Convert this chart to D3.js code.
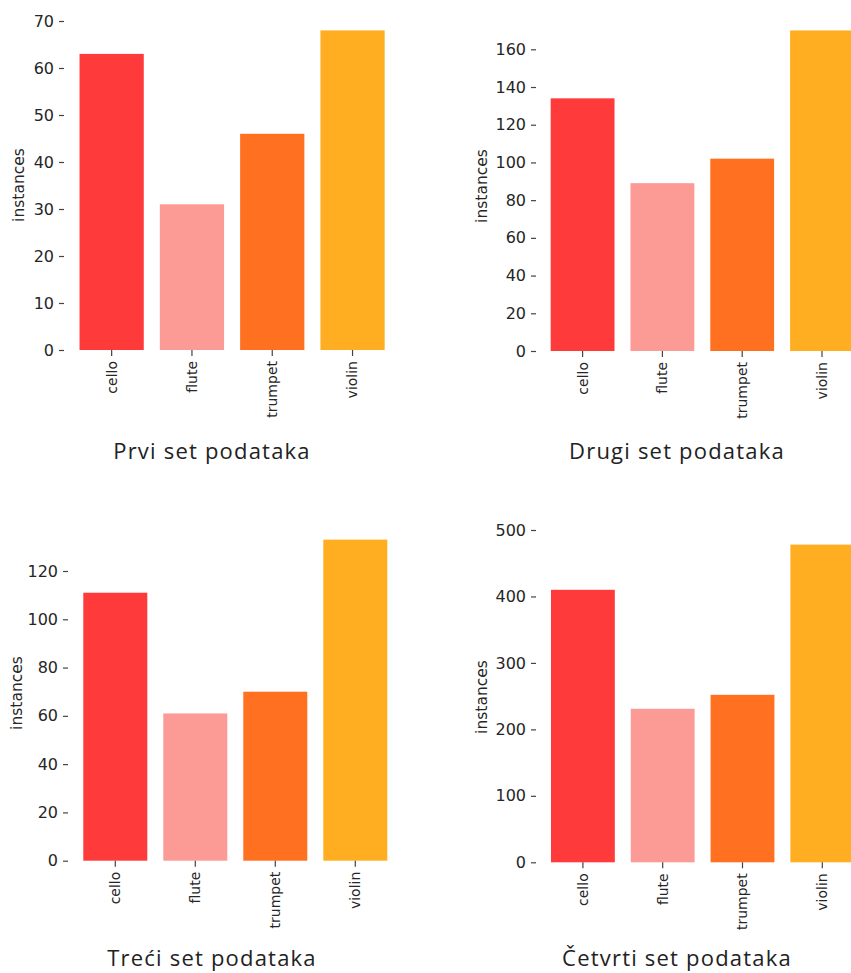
<!DOCTYPE html>
<html>
<head>
<meta charset="utf-8">
<script src="https://cdn.jsdelivr.net/npm/d3@7"></script>
<style>
  html, body { margin: 0; padding: 0; background: #ffffff; }
  svg { display: block; }
  svg text.tk { font-family: "DejaVu Sans", "Verdana", sans-serif; }
</style>
</head>
<body>
<svg id="chart" width="851" height="973"></svg>
<script>
// ---- data ----
const categories = ["cello", "flute", "trumpet", "violin"];
const values1 = [63, 31, 46, 68];
const values2 = [134, 89, 102, 170];
const values3 = [111, 61, 70, 133];
const values4 = [410, 231, 252, 478];
const ticks1 = [0, 10, 20, 30, 40, 50, 60, 70];
const ticks2 = [0, 20, 40, 60, 80, 100, 120, 140, 160];
const ticks3 = [0, 20, 40, 60, 80, 100, 120];
const ticks4 = [0, 100, 200, 300, 400, 500];
const titles = ["Prvi set podataka", "Drugi set podataka", "Treći set podataka", "Četvrti set podataka"];
const yLabel = "instances";
const colors = ["#FF3A3A", "#FC9A95", "#FF7120", "#FFAE22"];

// ---- layout (pixels) ----
const panels = [
  { values: values1, ticks: ticks1, title: titles[0], yTop: 70,  yPix: [350, 21],    xRange: [71.5, 392.7], axisX: 64,  ylab: [19, 185],  titlePos: [212, 459] },
  { values: values2, ticks: ticks2, title: titles[1], yTop: 160, yPix: [351, 49.3],  xRange: [542.7, 861.9], axisX: 536, ylab: [482, 186], titlePos: [677, 459] },
  { values: values3, ticks: ticks3, title: titles[2], yTop: 120, yPix: [860.7, 571], xRange: [75.3, 395.3], axisX: 68,  ylab: [17, 693],  titlePos: [212, 966] },
  { values: values4, ticks: ticks4, title: titles[3], yTop: 500, yPix: [862.3, 530], xRange: [543, 862.2], axisX: 536, ylab: [482, 697], titlePos: [677, 966] }
];

const svg = d3.select("#chart");

panels.forEach((p, pi) => {
  const g = svg.append("g");
  const y = d3.scaleLinear().domain([0, p.yTop]).range(p.yPix);
  const x = d3.scaleBand().domain(categories).range(p.xRange).paddingInner(0.2).paddingOuter(0.1);

  // bars
  g.selectAll("rect.bar")
    .data(categories.map((c, i) => ({ c, v: p.values[i], i })))
    .join("rect")
    .attr("class", "bar")
    .attr("x", d => x(d.c))
    .attr("width", x.bandwidth())
    .attr("y", d => y(d.v))
    .attr("height", d => y(0) - y(d.v))
    .attr("fill", d => colors[d.i]);

  // y axis
  const ya = g.append("g")
    .attr("transform", `translate(${p.axisX},0)`)
    .call(d3.axisLeft(y).tickValues(p.ticks).tickSize(5).tickPadding(5).tickFormat(d3.format("d")));
  ya.attr("font-family", "DejaVu Sans").attr("font-size", 16);
  ya.select(".domain").remove();
  ya.selectAll(".tick line").attr("stroke", "#444").attr("stroke-width", 1.2);
  ya.selectAll(".tick text").attr("class", "tk").attr("fill", "#262626")
    .attr("font-family", "DejaVu Sans").attr("font-size", 16);

  // x axis
  const xa = g.append("g")
    .attr("transform", `translate(0,${y(0)})`)
    .call(d3.axisBottom(x).tickSize(6).tickPadding(4));
  xa.attr("font-family", "DejaVu Sans").attr("font-size", 14);
  xa.select(".domain").remove();
  xa.selectAll(".tick line").attr("stroke", "#444").attr("stroke-width", 1.2);
  xa.selectAll(".tick text")
    .attr("class", "tk")
    .attr("fill", "#262626")
    .attr("font-family", "DejaVu Sans")
    .attr("font-size", 14)
    .attr("transform", "rotate(-90)")
    .attr("text-anchor", "end")
    .attr("x", -11)
    .attr("y", 0)
    .attr("dy", "0.35em");

  // y label
  g.append("text")
    .attr("class", "tk")
    .attr("transform", `translate(${p.ylab[0]},${p.ylab[1]}) rotate(-90)`)
    .attr("text-anchor", "middle")
    .attr("dominant-baseline", "central")
    .attr("fill", "#262626")
    .attr("font-family", "DejaVu Sans")
    .attr("font-size", 15.5)
    .text(yLabel);

  // title
  g.append("text")
    .attr("x", p.titlePos[0])
    .attr("y", p.titlePos[1])
    .attr("text-anchor", "middle")
    .attr("fill", "#222")
    .attr("font-family", "Open Sans")
    .attr("font-size", 22)
    .style("letter-spacing", "1.2px")
    .text(p.title);
});
</script>
</body>
</html>
